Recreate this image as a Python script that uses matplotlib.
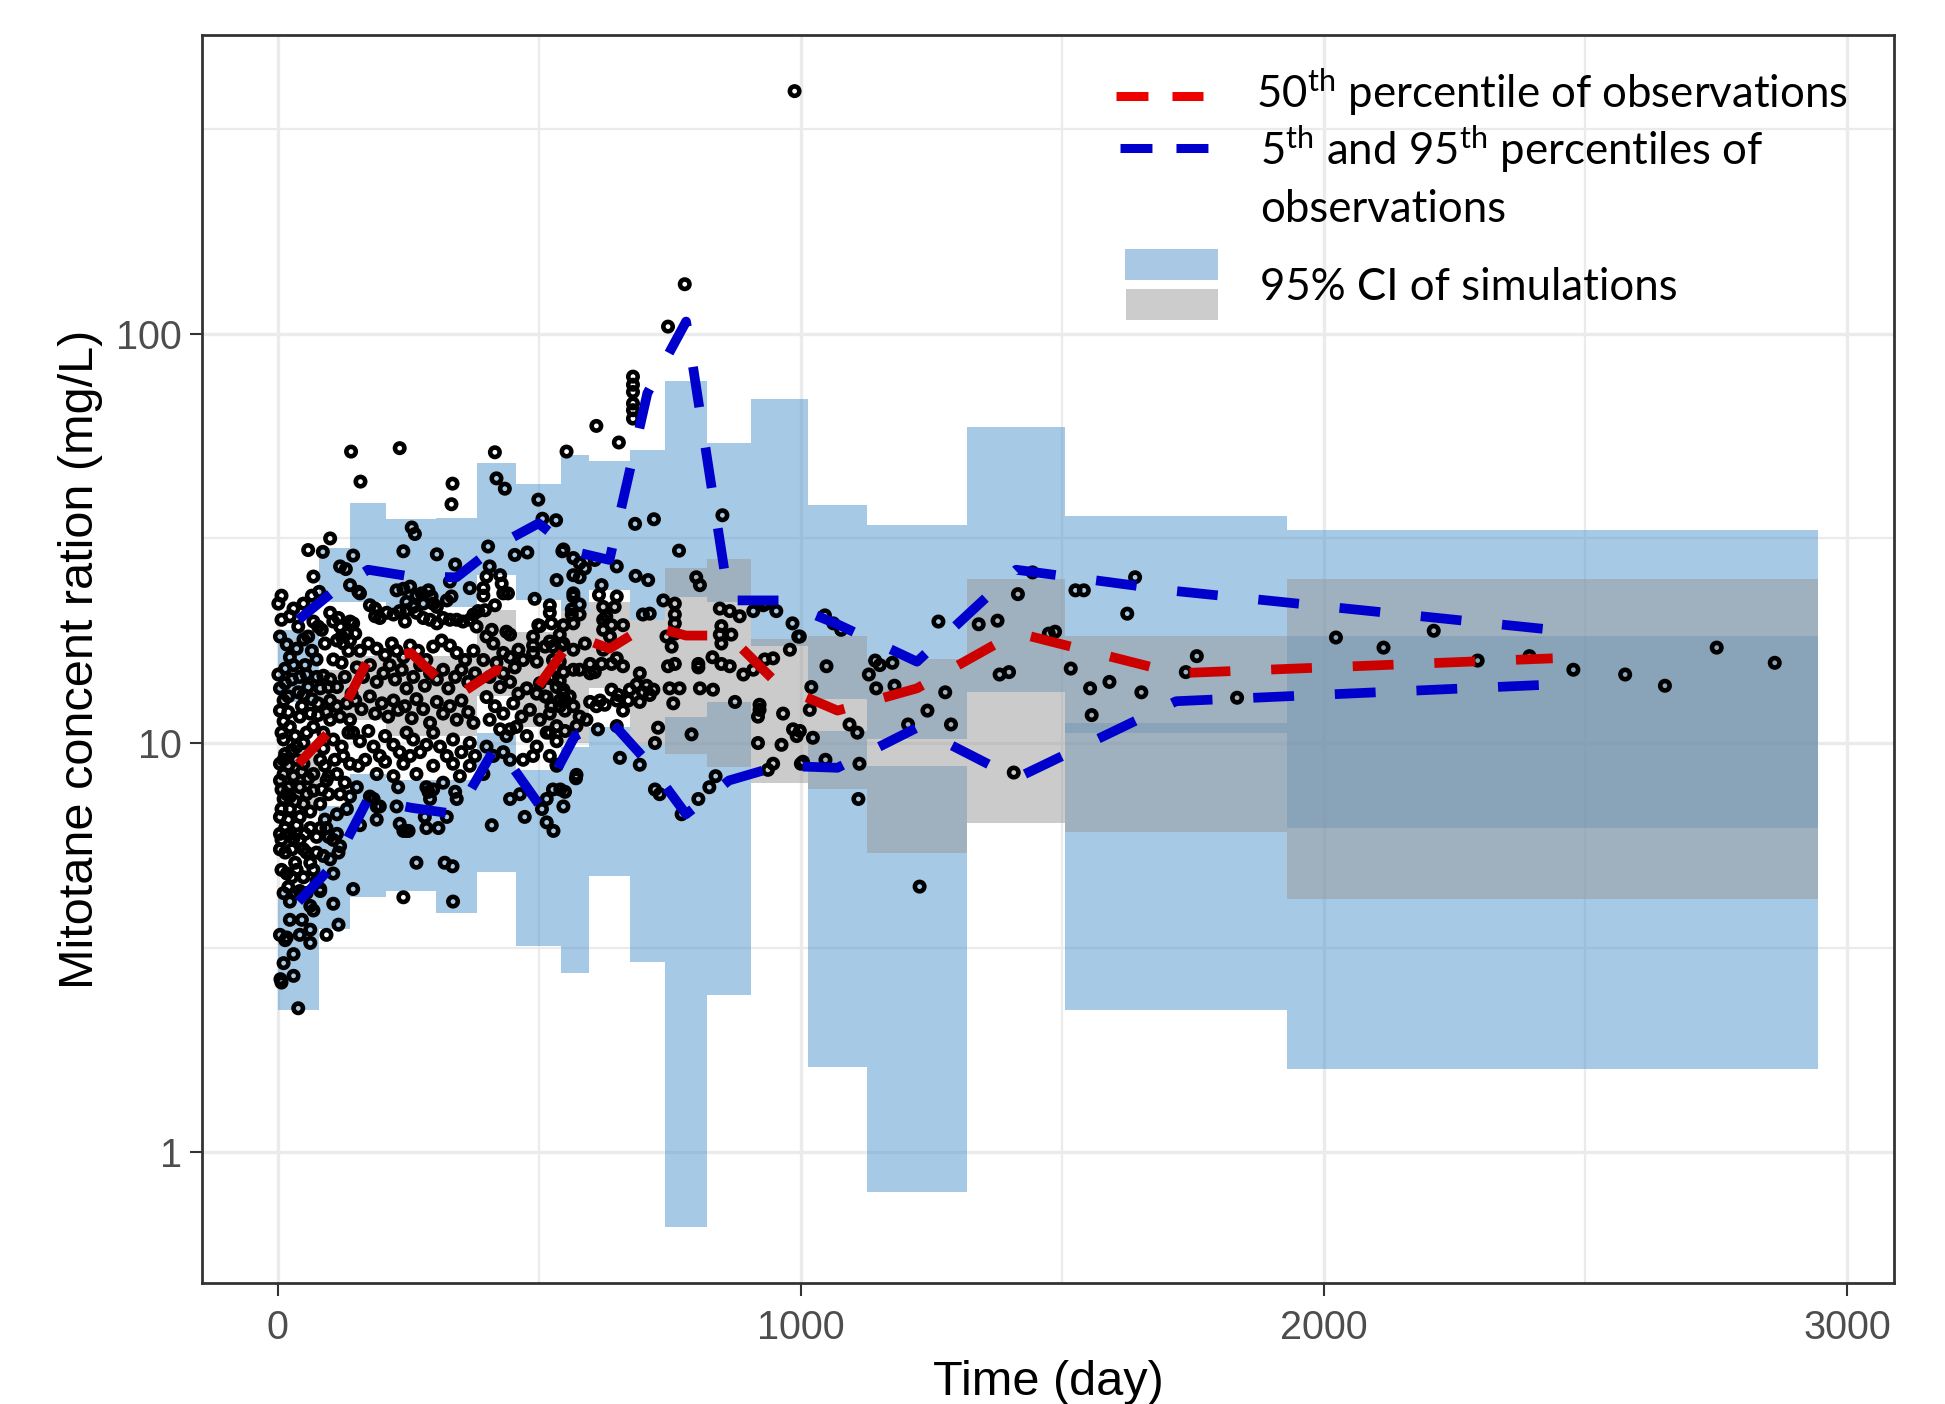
import numpy as np
import matplotlib
matplotlib.use("Agg")
import matplotlib.pyplot as plt
from matplotlib.lines import Line2D
from matplotlib.patches import Rectangle

# ---- simulation bins (day edges) and 95% CI rectangles (mg/L) ----
bin_edges = [0, 79, 138, 207, 302, 381, 456, 541, 595, 673, 740, 821, 904,
             1014, 1126, 1318, 1505, 1930, 2945]
ci95_lo = [12.6, 22.1, 22.1, 21.5, 21.5, 25.7, 22.3, 21.0, 23.7, 20.0, 22.7,
           22.1, 17.3, 12.8, 10.2, 13.3, 10.6, 6.2]
ci95_hi = [18.9, 29.9, 38.5, 35.2, 35.5, 48.2, 42.8, 50.4, 48.8, 52.1, 76.7,
           54.1, 69.2, 38.2, 34.0, 59.2, 35.8, 33.2]
ci50_lo = [7.0, 11.4, 11.4, 10.4, 10.4, 13.0, 10.96, 10.0, 13.6, 9.9, 9.4,
           8.75, 8.0, 7.7, 5.4, 6.36, 6.07, 4.17]
ci50_hi = [9.6, 15.1, 16.3, 16.3, 16.3, 21.1, 18.7, 21.0, 22.1, 20.0, 26.7,
           28.2, 18.0, 18.3, 16.0, 25.1, 18.3, 25.1]
ci05_lo = [2.23, 3.52, 4.2, 4.34, 3.84, 4.85, 3.2, 2.74, 4.74, 2.92, 0.658,
           2.43, np.nan, 1.62, 0.80, np.nan, 2.23, 1.60]
ci05_hi = [4.42, 7.0, 8.4, 8.1, 8.1, 10.6, 8.6, 9.8, 10.96, 9.9, 11.6,
           12.6, np.nan, 10.7, 8.8, np.nan, 11.2, 18.3]

# ---- observed percentiles at bin midpoints ----
bin_mid = [39.5, 108.5, 172.5, 254.5, 341.5, 418.5, 498.5, 568, 634, 706.5,
           780.5, 862.5, 959, 1070, 1222, 1411.5, 1717.5, 2437.5]
obs_p50 = [8.9, 11.0, 16.0, 16.6, 13.0, 15.1, 13.8, 18.3, 17.0, 19.4, 18.3,
           18.3, 13.8, 12.0, 13.6, 18.6, 14.8, 16.1]
obs_p95 = [20.0, 23.6, 26.5, 25.5, 25.4, 30.3, 34.4, 29.3, 28.0, 71.5, 107,
           22.3, 22.3, 19.5, 15.8, 26.5, 23.5, 18.9]
obs_p05 = [4.1, 5.07, 7.3, 6.95, 6.7, 9.9, 7.1, 10.4, 11.4, 9.0, 6.7, 8.1,
           8.8, 8.7, 10.9, 8.2, 12.65, 13.9]

# ---- observations (day, mg/L) ----
obs_first_80 = [
    (7, 22.9), (1, 21.9), (30, 21.3), (49, 21.9), (65, 22.9), (79, 23.4), (68, 25.5), (68, 19.8),
    (77, 19.25), (84, 18.9), (36, 17.0), (14, 15.2), (30, 15.5), (52, 15.5), (74, 16.0), (4, 13.6),
    (14, 14.0), (27, 14.3), (42, 14.5), (58, 13.7), (81, 13.6), (11, 12.7), (46, 12.3), (11, 11.3),
    (23, 10.95), (42, 11.6), (62, 11.8), (77, 11.7), (11, 10.2), (33, 10.4), (55, 10.6), (68, 10.95),
    (14, 9.4), (27, 9.6), (11, 9.1), (20, 8.8), (11, 8.4), (36, 9.1), (49, 8.9), (68, 8.4), (81, 9.1),
    (7, 7.7), (20, 7.8), (11, 7.3), (23, 7.4), (42, 7.8), (55, 7.5), (68, 7.65), (7, 6.9), (23, 6.9),
    (49, 7.1), (62, 6.8), (81, 7.1), (14, 6.2), (36, 6.3), (52, 6.0), (62, 6.2), (7, 5.8), (30, 5.85),
    (14, 5.4), (27, 5.5), (49, 5.5), (74, 5.9), (81, 6.2), (33, 5.1), (62, 5.1), (17, 4.8), (27, 4.7),
    (36, 4.9), (11, 4.3), (23, 4.1), (42, 4.35), (62, 4.0), (81, 4.35), (17, 3.35), (62, 3.5),
    (7, 2.6), (30, 2.7), (39, 2.25), (4, 12.0), (20, 11.9), (7, 10.6), (36, 9.8), (49, 10.0), (4, 8.9),
    (30, 8.3), (46, 8.5), (58, 8.2), (4, 8.1), (17, 7.5), (33, 7.2), (4, 6.6), (20, 6.5), (42, 6.6),
    (4, 6.0), (23, 6.0), (42, 5.8), (4, 5.5), (55, 5.4), (7, 4.9), (49, 4.7), (68, 4.9), (20, 4.45),
    (33, 4.3), (55, 4.3), (68, 3.9), (23, 3.7), (46, 3.7), (4, 3.4), (62, 3.25), (30, 3.05), (42, 3.4),
    (11, 2.9), (74, 4.6), (74, 5.4), (39, 13.3), (65, 12.8), (20, 13.0), (49, 13.1), (77, 12.5),
    (1, 14.7), (55, 14.7), (74, 14.5), (23, 16.2), (65, 16.8), (4, 18.2), (17, 17.4), (49, 17.9),
    (58, 18.2), (7, 20.0), (39, 19.25), (23, 20.4), (14, 3.3), (5, 2.65),
]
obs_80_140 = [
    (87, 14.6), (87, 10.6), (87, 9.7), (93, 8.1), (84, 7.7), (90, 6.5), (97, 5.9), (90, 8.8),
    (93, 11.9), (97, 13.7), (100, 20.8), (106, 19.8), (116, 20.2), (90, 17.5), (113, 17.8),
    (125, 17.5), (138, 17.8), (106, 16.0), (122, 15.7), (135, 16.8), (100, 14.3), (113, 13.7),
    (128, 14.5), (141, 13.2), (100, 12.7), (113, 12.3), (132, 12.5), (100, 11.4), (119, 11.6),
    (138, 11.4), (106, 10.2), (122, 9.8), (135, 10.6), (109, 9.1), (125, 9.3), (138, 8.9), (97, 8.3),
    (113, 8.4), (128, 8.0), (97, 7.5), (119, 7.5), (138, 7.4), (113, 6.7), (132, 6.9), (93, 6.2),
    (113, 6.0), (119, 5.6), (106, 5.8), (87, 5.3), (116, 5.4), (100, 5.2), (106, 4.8), (81, 4.4),
    (106, 4.05), (144, 4.4), (93, 3.4), (116, 3.6), (119, 27.0), (130, 26.6), (138, 24.3),
    (119, 19.25), (122, 18.2), (132, 18.5), (100, 31.6), (86, 29.3), (58, 29.6),
]
obs_140_380 = [
    (154, 23.4), (157, 23.2), (176, 21.7), (186, 21.3), (227, 23.6), (240, 23.8), (253, 24.1),
    (265, 22.9), (275, 23.2), (288, 23.6), (294, 22.8), (246, 22.1), (259, 21.5), (278, 21.9),
    (297, 21.9), (304, 21.5), (323, 22.3), (332, 22.8), (339, 27.3), (329, 24.8), (367, 23.9),
    (186, 20.4), (195, 20.2), (208, 20.8), (221, 20.6), (233, 21.0), (243, 19.8), (246, 21.1),
    (265, 20.8), (278, 20.2), (291, 20.0), (304, 19.6), (138, 19.8), (144, 19.6), (148, 18.5),
    (316, 20.2), (329, 20.0), (342, 20.0), (354, 19.8), (367, 20.0), (374, 20.6),
    (140, 51.5), (233, 52.5), (158, 43.5), (334, 43.0), (332, 38.3), (256, 33.6), (262, 32.4),
    (144, 28.7), (240, 29.4), (304, 28.9),
    (157, 16.8), (173, 17.5), (189, 17.0), (205, 16.4), (218, 17.5), (227, 16.8), (240, 16.2),
    (253, 17.3), (268, 16.8), (284, 15.95), (297, 17.2), (313, 17.8), (329, 17.3), (342, 16.6),
    (358, 15.95), (374, 16.8), (151, 15.3), (163, 14.5), (176, 15.5), (189, 14.1), (202, 14.8),
    (214, 15.5), (224, 14.3), (237, 15.1), (246, 13.6), (259, 14.5), (272, 15.5), (281, 13.8),
    (291, 14.8), (304, 14.3), (316, 15.1), (326, 13.6), (339, 14.5), (351, 15.1), (364, 14.1),
    (377, 14.8), (148, 12.7), (160, 12.1), (176, 13.0), (186, 11.8), (199, 12.5), (211, 11.6),
    (221, 12.7), (230, 12.05), (243, 12.3), (256, 11.5), (265, 12.8), (278, 12.1), (291, 11.2),
    (304, 12.6), (316, 11.8), (329, 12.3), (342, 11.4), (351, 12.7), (364, 11.9), (374, 11.2),
    (144, 10.6), (157, 10.1), (173, 10.7), (183, 9.8), (195, 9.3), (205, 10.4), (221, 9.9),
    (233, 9.5), (246, 10.6), (259, 10.2), (272, 9.5), (284, 9.9), (297, 10.6), (310, 9.8),
    (323, 9.3), (335, 10.2), (351, 9.5), (367, 10.0), (377, 9.3), (154, 8.8), (167, 9.1),
    (189, 8.4), (205, 9.0), (221, 8.3), (240, 8.9), (253, 9.3), (265, 8.4), (297, 8.8), (316, 8.0),
    (335, 8.9), (348, 8.3), (367, 8.8), (151, 7.8), (230, 7.8), (284, 7.8), (183, 7.3), (195, 7.0),
    (189, 6.5), (227, 7.0), (233, 6.35), (240, 6.1), (291, 7.3), (297, 7.7), (342, 7.3), (281, 6.6),
    (323, 6.6), (307, 6.2), (246, 6.1), (284, 6.2), (265, 5.1), (319, 5.1), (334, 5.0), (240, 4.2),
    (335, 4.1), (157, 6.3), (189, 7.0), (176, 7.4), (339, 7.6), (288, 7.6), (250, 6.1),
]
obs_380_560 = [
    (380, 19.25), (399, 18.2), (412, 17.5), (431, 16.6), (444, 16.2), (393, 15.95), (418, 15.7),
    (431, 14.8), (453, 15.3), (469, 15.95), (488, 16.6), (405, 14.5), (425, 13.7), (444, 14.1),
    (460, 13.2), (476, 13.6), (495, 13.2), (514, 12.95), (533, 13.7), (399, 12.95), (415, 12.3),
    (431, 11.8), (450, 12.5), (466, 11.6), (482, 12.05), (501, 11.4), (520, 11.8), (539, 12.3),
    (405, 11.4), (425, 10.8), (437, 10.4), (456, 10.95), (476, 10.4), (495, 9.8), (514, 10.6),
    (533, 10.1), (549, 10.7), (399, 9.8), (412, 9.3), (431, 9.5), (444, 10.8), (469, 9.1),
    (488, 9.3), (444, 9.1), (520, 9.3), (393, 8.4), (409, 6.3), (444, 7.3), (463, 7.5), (472, 6.6),
    (514, 6.4), (533, 8.8), (546, 7.0), (549, 12.7), (505, 6.9), (527, 6.1), (540, 7.7),
    (405, 27.0), (399, 25.5), (425, 25.7), (428, 24.5), (393, 23.9), (393, 22.9), (431, 23.2),
    (440, 23.2), (415, 21.7), (491, 22.5), (533, 25.0), (520, 21.7), (520, 20.8), (523, 19.6),
    (498, 19.4), (546, 19.4), (383, 21.0), (396, 21.1), (409, 18.9), (437, 18.7), (444, 18.4),
    (460, 16.9), (488, 18.2), (488, 17.3), (511, 17.2), (526, 17.2), (539, 18.4), (546, 17.5),
    (495, 15.8), (526, 15.95), (539, 15.8), (520, 14.4), (546, 14.9), (546, 13.2),
    (415, 51.3), (418, 44.3), (434, 41.8), (498, 39.3), (506, 35.3), (532, 35.0), (552, 51.5),
    (402, 30.2), (453, 28.8), (477, 29.2), (544, 29.4),
]
obs_560_1080 = [
    (609, 59.5), (652, 54.2), (683, 34.3), (719, 35.2), (767, 29.5), (850, 36.0), (546, 29.7),
    (565, 28.3), (577, 27.5), (587, 26.7), (606, 28.0), (648, 27.0), (684, 25.6), (708, 25.0),
    (565, 25.7), (577, 25.4), (800, 25.4), (807, 24.3), (565, 23.2), (565, 22.8), (577, 21.8),
    (562, 21.2), (562, 20.6), (577, 20.6), (619, 24.3), (614, 23.0), (622, 21.5), (628, 20.4),
    (648, 22.8), (644, 21.5), (565, 19.6), (520, 17.7), (501, 19.3), (542, 17.3), (565, 16.9),
    (587, 17.5), (622, 20.0), (622, 18.9), (638, 19.4), (660, 19.4), (635, 18.2), (622, 16.9),
    (648, 16.1), (619, 15.6), (638, 15.6), (660, 15.4), (597, 15.6), (577, 15.1), (597, 14.8),
    (606, 14.9), (565, 15.1), (539, 14.2), (546, 13.5), (526, 14.5), (501, 14.0), (511, 13.0),
    (539, 12.7), (565, 12.3), (577, 11.6), (590, 11.4), (609, 12.3), (625, 12.4), (648, 12.7),
    (670, 12.7), (660, 12.0), (673, 13.5), (692, 14.8), (705, 13.8), (718, 13.5), (711, 13.1),
    (686, 13.9), (698, 13.3), (692, 12.6), (651, 13.1), (638, 13.5), (616, 12.7), (597, 12.6),
    (558, 13.0), (523, 12.3), (549, 12.0), (533, 11.0), (520, 10.6), (571, 11.0), (612, 10.8),
    (648, 11.0), (737, 22.3), (759, 21.9), (759, 20.6), (759, 19.6), (759, 18.5), (743, 18.2),
    (753, 17.2), (759, 15.6), (746, 15.4), (711, 20.7), (698, 20.6), (804, 15.6), (804, 15.3),
    (831, 16.2), (848, 15.6), (864, 15.4), (845, 21.3), (848, 19.3), (845, 18.4), (867, 18.4),
    (848, 17.5), (864, 21.0), (883, 20.4), (909, 21.0), (928, 21.7), (934, 21.9), (953, 21.0),
    (984, 19.6), (995, 18.2), (979, 16.9), (1046, 20.5), (1062, 19.6), (947, 16.1), (931, 16.0),
    (890, 14.7), (909, 15.1), (921, 12.4), (921, 12.05), (918, 11.6), (966, 11.8), (985, 10.8),
    (992, 10.4), (1023, 10.3), (963, 9.9), (918, 10.0), (1049, 15.4), (1020, 13.7), (1017, 12.05),
    (874, 12.6), (832, 13.5), (807, 13.6), (768, 13.6), (749, 13.6), (756, 12.5), (791, 10.5),
    (727, 10.9), (721, 10.0), (692, 8.85), (654, 9.2), (571, 8.36), (533, 8.85), (570, 8.2),
    (526, 7.7), (549, 7.6), (514, 7.3), (721, 7.7), (730, 7.5), (804, 7.3), (772, 6.7), (825, 7.8),
    (837, 8.3), (947, 8.9), (937, 8.6), (1000, 8.9), (998, 18.2), (1077, 18.9), (998, 10.7),
    (1004, 9.0), (1047, 9.1),
    (988, 391), (778, 132), (746, 104), (679, 78.5), (679, 75), (679, 72), (679, 67.5), (679, 65),
    (679, 62),
]
obs_after_1080 = [
    (1093, 11.1), (1108, 10.6), (1112, 8.9), (1110, 7.3), (1130, 14.7), (1142, 15.9), (1151, 15.5),
    (1175, 15.7), (1179, 13.8), (1144, 13.6), (1205, 11.1), (1242, 12.0), (1276, 13.3),
    (1287, 11.1), (1263, 19.8), (1227, 4.46), (1340, 19.5), (1376, 19.9), (1415, 23.1),
    (1443, 26.1), (1380, 14.7), (1398, 14.9), (1474, 18.5), (1486, 18.7), (1407, 8.47),
    (1525, 23.6), (1541, 23.6), (1624, 20.7), (1639, 25.4), (1516, 15.2), (1553, 13.6),
    (1590, 14.1), (1651, 13.3), (1556, 11.7), (1736, 14.9), (1757, 16.3), (1834, 12.9),
    (2023, 18.1), (2114, 17.1), (2210, 18.8), (2294, 15.9), (2393, 16.3), (2477, 15.1),
    (2576, 14.7), (2652, 13.8), (2751, 17.1), (2862, 15.7),
]

FIG_W, FIG_H = 1945, 1404
plt.rcParams["font.family"] = ["Liberation Sans", "DejaVu Sans"]
plt.rcParams["mathtext.fontset"] = "custom"
plt.rcParams["mathtext.rm"] = "Lato"
plt.rcParams["mathtext.it"] = "Lato:italic"
plt.rcParams["mathtext.bf"] = "Lato:bold"

fig = plt.figure(figsize=(FIG_W / 100, FIG_H / 100), dpi=100)


def fxp(px):
    return px / FIG_W


def fyp(py):
    return 1 - py / FIG_H


ax = fig.add_axes([fxp(202), fyp(1282.6), (1894 - 202) / FIG_W, (1282.6 - 34.7) / FIG_H])
ax.set_yscale("log")

# simulation CI rectangles
edges = np.array(bin_edges, dtype=float)
left, width = edges[:-1], np.diff(edges)
BLUE_FILL, GRAY_FILL = "#4F94CD", "#999999"
for lo, hi, col in [(ci95_lo, ci95_hi, BLUE_FILL), (ci05_lo, ci05_hi, BLUE_FILL),
                    (ci50_lo, ci50_hi, GRAY_FILL)]:
    lo, hi = np.array(lo), np.array(hi)
    ok = ~np.isnan(lo)
    ax.bar(left[ok], hi[ok] - lo[ok], bottom=lo[ok], width=width[ok], align="edge",
           color=col, alpha=0.5, linewidth=0, zorder=2)

# observations
obs = np.array(obs_first_80 + obs_80_140 + obs_140_380 + obs_380_560 + obs_560_1080 + obs_after_1080)
ax.scatter(obs[:, 0], obs[:, 1], s=46, facecolors="none", edgecolors="black",
           linewidths=3.3, zorder=4)

# observed percentile lines
for vals, col in [(obs_p95, "#0000CD"), (obs_p05, "#0000CD"), (obs_p50, "#CD0000")]:
    ax.plot(bin_mid, vals, color=col, lw=7, dashes=(4.2, 4.2), dash_capstyle="butt",
            dash_joinstyle="round", zorder=5)

ax.set_xlim(-145, 3090)
ax.set_ylim(0.481, 537)
ax.set_xticks([0, 1000, 2000, 3000])
ax.set_xticks([500, 1500, 2500], minor=True)
ax.set_yticks([1, 10, 100])
ax.set_yticks([10 ** 0.5, 10 ** 1.5, 10 ** 2.5], minor=True)
ax.set_yticklabels(["1", "10", "100"])
ax.set_xticklabels(["0", "1000", "2000", "3000"])
ax.grid(which="major", color="#EBEBEB", lw=2.4, zorder=0)
ax.grid(which="minor", color="#EBEBEB", lw=1.6, zorder=0)
ax.set_axisbelow(True)
ax.tick_params(which="major", length=9, width=1.5, color="#333333", labelsize=28.5,
               labelcolor="#4D4D4D", pad=10)
ax.tick_params(axis="y", which="major", pad=5.5)
ax.tick_params(which="minor", length=0)
for sp in ax.spines.values():
    sp.set_color("#333333")
    sp.set_linewidth(2.0)

fig.text(fxp(1048), fyp(1395), "Time (day)", ha="center", va="baseline", fontsize=35)
fig.text(fxp(81), fyp(659), "Mitotane concent ration (mg/L)", rotation=90,
         ha="center", va="center", fontsize=35)

# legend (drawn in figure pixels)
leg_font = dict(fontfamily="Lato", fontsize=31.5, va="baseline", ha="left", color="black")
fig.add_artist(Line2D([fxp(1116), fxp(1203)], [fyp(96), fyp(96)], transform=fig.transFigure,
                      color="#EE0000", lw=6.5, dashes=(3.54, 2.66), dash_capstyle="butt"))
fig.add_artist(Line2D([fxp(1120), fxp(1208)], [fyp(148), fyp(148)], transform=fig.transFigure,
                      color="#0000CC", lw=6.5, dashes=(3.54, 2.66), dash_capstyle="butt"))
fig.add_artist(Rectangle((fxp(1125), fyp(280)), (1218 - 1125) / FIG_W, 31 / FIG_H,
                         transform=fig.transFigure, color="#A8C8E4", lw=0))
fig.add_artist(Rectangle((fxp(1126), fyp(320)), (1218 - 1126) / FIG_W, 31 / FIG_H,
                         transform=fig.transFigure, color="#CCCCCC", lw=0))
fig.text(fxp(1256), fyp(108), r"50$^{\rm th}$ percentile of observations", **leg_font)
fig.text(fxp(1260), fyp(165), r"5$^{\rm th}$ and 95$^{\rm th}$ percentiles of", **leg_font)
fig.text(fxp(1260), fyp(222), "observations", **leg_font)
fig.text(fxp(1260), fyp(300), "95% CI of simulations", **leg_font)

fig.savefig("out.png", dpi=100)
